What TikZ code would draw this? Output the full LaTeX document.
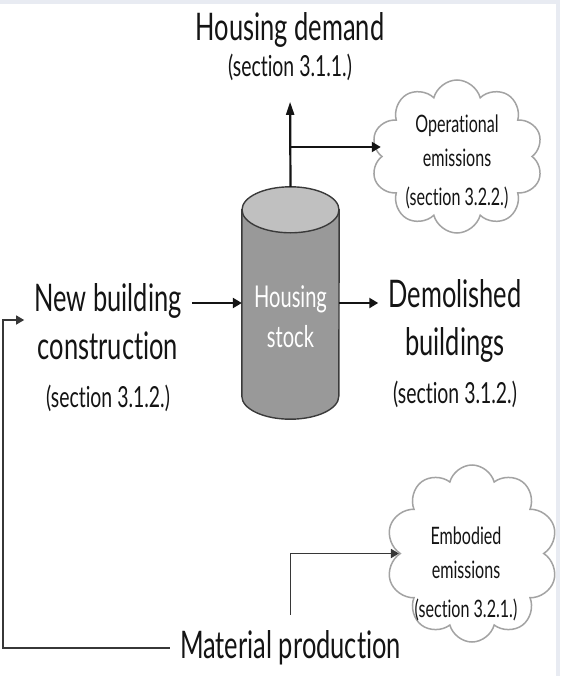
\documentclass[tikz,border=0pt]{standalone}
\usepackage{fontspec}
\setmainfont{Lato}[FakeStretch=0.67,Ligatures=NoCommon]
\usetikzlibrary{arrows.meta,shapes.symbols}
\newcommand\biglabel{\fontsize{38}{48}\selectfont}
\newcommand\seclabel{\fontsize{29}{36}\selectfont}
\newcommand\puffsize{\fontsize{24}{34.5}\selectfont}
\definecolor{stockbody}{HTML}{999999}
\definecolor{stocktop}{HTML}{C0C0C0}
\definecolor{stockline}{HTML}{3A3A3A}
\definecolor{puffline}{HTML}{A3A3A3}
\definecolor{edgeband}{HTML}{E8EBF2}
\definecolor{ink}{HTML}{141414}
\begin{document}
\begin{tikzpicture}[x=1pt,y=-1pt,
  big/.style={font=\biglabel,text=ink,align=center,inner xsep=10pt,inner ysep=4pt},
  flow/.style={draw=ink,line width=2.2pt,-{Triangle[length=9pt,width=10pt]}},
  link/.style={draw=ink!85,line width=1.4pt,-{Triangle[length=8pt,width=9pt]}},
  puff/.style={cloud,cloud puffs=10,cloud ignores aspect,draw=puffline,line width=1.5pt,
    minimum width=172pt,inner sep=0pt},
  puffnote/.style={font=\puffsize,text=ink,align=center},
  stocknote/.style={font=\fontsize{30}{40}\selectfont,text=white,align=center}]
\useasboundingbox (0,0) rectangle (560,676);
\fill[white] (0,0) rectangle (560,676);
\fill[edgeband] (0,0) rectangle (560,4);
\fill[edgeband] (556,0) rectangle (560,676);

\node (stock) [minimum width=97pt,minimum height=186pt,inner sep=0pt] at (290.5,303) {};
\filldraw[fill=stockbody,draw=stockline,line width=1.4pt] (stock.north west) -- (stock.south west)
  arc[start angle=180,end angle=360,x radius=48.5pt,y radius=23pt] -- (stock.north east) -- cycle;
\filldraw[fill=stocktop,draw=stockline,line width=1.4pt] (stock.north) ellipse[x radius=48.5pt,y radius=23pt];
\node[stocknote] (stocktext) at ([yshift=-14pt]stock.center) {Housing\\stock};

\node[big] (demand) at (290,46.5) {Housing demand\\[-12pt]{\seclabel (section 3.1.1.)}};
\node[big] (newb) at (108,348) {New building\\construction\\{\seclabel (section 3.1.2.)}};
\node[big] (demol) at (455,344) {Demolished\\buildings\\{\seclabel (section 3.1.2.)}};
\node[big] (mat) at (290.5,648) {Material production};

\node[puff,minimum height=153pt,
  label={[puffnote,yshift=-5pt]center:{Operational\\emissions\\[4pt](section 3.2.2.)}}] (opcloud) at (457,156.5) {};
\node[puff,minimum height=177pt,
  label={[puffnote,xshift=-6pt,yshift=-20pt]center:{Embodied\\emissions\\[4pt](section 3.2.1.)}}] (emcloud) at (472,553.5) {};

\coordinate (split) at (291,147);
\coordinate (turn) at (3,320);
\draw[flow,-{Triangle[length=13pt,width=8pt]},shorten >=17pt] ([yshift=23pt]stock.north) -- (demand.south);
\draw[flow,line width=2pt] (split) -- (split -| opcloud.west);
\draw[flow] (newb.east |- stock.west) -- (stock.west);
\draw[flow] (stock.east) -- (stock.east -| demol.west);
\draw[link] (mat.west) -| (turn) -- (turn -| newb.west);
\draw[link,line width=1.7pt] ([yshift=12pt]mat.north) |- (emcloud.west);
\end{tikzpicture}
\end{document}
